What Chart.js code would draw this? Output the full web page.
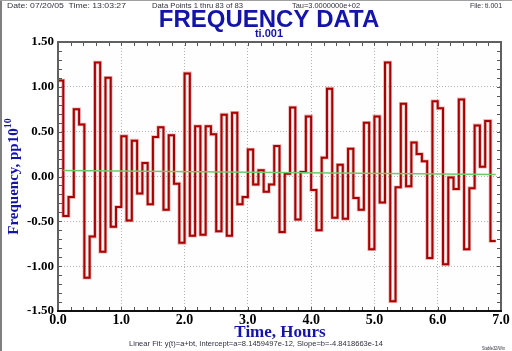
<!DOCTYPE html>
<html><head><meta charset="utf-8">
<script src="https://cdn.jsdelivr.net/npm/chart.js@4.4.0/dist/chart.umd.min.js"></script>
<style>html,body{margin:0;padding:0;background:#fff;}canvas{display:block}</style>
</head><body>
<canvas id="c" width="512" height="351"></canvas>
<script>
// ---- data ----
const tauSeconds = 300;
const freqValues = [1.07,-0.44,-0.23,0.75,0.58,-1.13,-0.67,1.27,-0.84,1.10,
  -0.56,-0.34,0.45,-0.49,0.40,-0.19,0.15,-0.31,0.44,0.55,
  -0.37,0.46,-0.08,-0.74,1.15,-0.66,0.56,-0.65,0.56,0.47,
  -0.61,0.69,-0.66,0.71,-0.31,-0.23,0.30,-0.09,0.07,-0.17,
  -0.09,0.34,-0.62,0.03,0.77,-0.48,0.05,0.67,-0.15,-0.60,
  0.21,0.98,-0.46,0.13,-0.47,0.31,-0.24,-0.37,0.60,-0.81,
  0.67,-0.29,1.27,-1.39,-0.12,0.81,-0.11,0.38,0.25,0.17,
  -0.91,0.84,0.76,-0.98,-0.01,-0.14,0.86,-0.81,-0.13,0.57,
  0.11,0.62,-0.72];
const fitTimes = [0.083, 6.917];
const fitValues = [0.068, 0.023];
const xTickLabels = ['0.0','1.0','2.0','3.0','4.0','5.0','6.0','7.0'];
const yTickLabels = ['-1.50','-1.00','-0.50','0.00','0.50','1.00','1.50'];
const headerTexts = ['Date: 07/20/05  Time: 13:03:27','Data Points 1 thru 83 of 83','Tau=3.0000000e+02','File: ti.001'];
const titleText = 'FREQUENCY DATA';
const subtitleText = 'ti.001';
const xTitle = 'Time, Hours';
const yTitleMain = 'Frequency, pp10';
const yTitleSup = '10';
const fitText = 'Linear Fit: y(t)=a+bt, Intercept=a=8.1459497e-12, Slope=b=-4.8418663e-14';
const footText = 'Stable32/Win';

const tauH = tauSeconds / 3600;
const stepPoints = freqValues.map((v, i) => ({x: i * tauH, y: v}));
stepPoints.push({x: freqValues.length * tauH, y: freqValues[freqValues.length - 1]});
const fitPoints = fitTimes.map((t, i) => ({x: t, y: fitValues[i]}));

function fitText2(ctx, text, x, y, w, font, color, align) {
  ctx.save();
  ctx.font = font; ctx.fillStyle = color; ctx.textBaseline = 'middle'; ctx.textAlign = 'left';
  const m = ctx.measureText(text).width;
  const s = w / m;
  let x0 = x;
  if (align === 'right') x0 = x - w;
  ctx.translate(x0, y); ctx.scale(s, 1);
  ctx.fillText(text, 0, 0);
  ctx.restore();
}

const decor = {
  id: 'decor',
  beforeDraw(chart) {
    const ctx = chart.ctx, a = chart.chartArea;
    ctx.save();
    ctx.fillStyle = '#ffffff'; ctx.fillRect(0, 0, chart.width, chart.height);
    ctx.fillStyle = '#fdfefd'; ctx.fillRect(a.left, a.top, a.right - a.left, a.bottom - a.top);
    ctx.fillStyle = '#808080'; ctx.fillRect(0, 0, 2, chart.height);
    ctx.fillStyle = '#a0a0a0'; ctx.fillRect(0, 0, chart.width, 1);
    ctx.restore();
  },
  afterDatasetsDraw(chart) {
    const ctx = chart.ctx, a = chart.chartArea;
    const xs = chart.scales.x, ys = chart.scales.y;
    ctx.save();
    ctx.strokeStyle = '#555'; ctx.lineWidth = 1;
    ctx.beginPath();
    for (let k = -15; k <= 15; k++) {
      const py = Math.round(ys.getPixelForValue(k / 10)) + 0.5;
      ctx.moveTo(a.left, py); ctx.lineTo(a.left + 4, py);
      ctx.moveTo(a.right, py); ctx.lineTo(a.right - 4, py);
    }
    for (let k = 0; k <= 35; k++) {
      const px = Math.round(xs.getPixelForValue(k / 5)) + 0.5;
      ctx.moveTo(px, a.top); ctx.lineTo(px, a.top + 4);
      ctx.moveTo(px, a.bottom); ctx.lineTo(px, a.bottom - 4);
    }
    ctx.stroke();
    ctx.lineWidth = 2;
    ctx.strokeStyle = '#606060';
    ctx.beginPath();
    ctx.moveTo(a.left, a.bottom); ctx.lineTo(a.left, a.top); ctx.lineTo(a.right, a.top); ctx.lineTo(a.right, a.bottom);
    ctx.stroke();
    ctx.strokeStyle = '#111';
    ctx.beginPath(); ctx.moveTo(a.left - 1, a.bottom); ctx.lineTo(a.right + 1, a.bottom); ctx.stroke();
    ctx.restore();
  },
  afterDraw(chart) {
    const ctx = chart.ctx;
    ctx.save();
    fitText2(ctx, headerTexts[0], 7, 5.5, 119, '8px "Liberation Sans"', '#303040', 'left');
    fitText2(ctx, headerTexts[1], 152, 5.5, 91, '8px "Liberation Sans"', '#303040', 'left');
    fitText2(ctx, headerTexts[2], 292, 5.5, 68, '8px "Liberation Sans"', '#303040', 'left');
    fitText2(ctx, headerTexts[3], 502, 5.5, 32, '8px "Liberation Sans"', '#303040', 'right');
    ctx.fillStyle = '#1414a8'; ctx.textAlign = 'center'; ctx.textBaseline = 'alphabetic';
    ctx.font = 'bold 24px "Liberation Sans"';
    ctx.fillText(titleText, 269, 27);
    ctx.font = 'bold 11px "Liberation Sans"';
    ctx.fillText(subtitleText, 269, 37);
    ctx.font = 'bold 17px "Liberation Serif"';
    ctx.fillText(xTitle, 280, 337);
    ctx.save();
    ctx.translate(18, 176.5);
    ctx.rotate(-Math.PI / 2);
    ctx.font = 'bold 15px "Liberation Serif"';
    const w1 = ctx.measureText(yTitleMain).width;
    ctx.font = 'bold 10px "Liberation Serif"';
    const w2 = ctx.measureText(yTitleSup).width;
    const x0 = -(w1 + w2) / 2;
    ctx.textAlign = 'left';
    ctx.font = 'bold 15px "Liberation Serif"';
    ctx.fillText(yTitleMain, x0, 0);
    ctx.font = 'bold 10px "Liberation Serif"';
    ctx.fillText(yTitleSup, x0 + w1, -7);
    ctx.restore();
    fitText2(ctx, fitText, 129, 344, 254, '7px "Liberation Sans"', '#303040', 'left');
    fitText2(ctx, footText, 505, 348.5, 23, '5px "Liberation Sans"', '#303040', 'right');
    ctx.restore();
  }
};

new Chart(document.getElementById('c'), {
  type: 'line',
  data: {
    datasets: [
      {data: fitPoints, borderColor: '#6ccc6c', borderWidth: 1.5, pointRadius: 0, order: 0},
      {data: stepPoints, stepped: 'before', borderColor: '#a80000', borderWidth: 2, pointRadius: 0, order: 1},
      {data: stepPoints, stepped: 'before', borderColor: 'rgba(214,90,90,0.45)', borderWidth: 3.6, pointRadius: 0, order: 2}
    ]
  },
  options: {
    responsive: false, animation: false,
    layout: {padding: {left: 0, top: 42, right: 11, bottom: 20}},
    plugins: {legend: {display: false}, tooltip: {enabled: false}, title: {display: false}},
    scales: {
      x: {
        type: 'linear', min: 0, max: 7,
        afterFit: s => { s.height = 20; },
        grid: {color: '#b4b4b4', drawTicks: false, lineWidth: 1},
        border: {display: false, dash: [1, 2]},
        ticks: {stepSize: 1, padding: 1, color: '#000', font: {family: '"Liberation Serif"', size: 14, weight: 'bold'},
          callback: (v, i) => xTickLabels[i]}
      },
      y: {
        type: 'linear', min: -1.5, max: 1.5,
        afterFit: s => { s.width = 58; },
        grid: {color: '#b4b4b4', drawTicks: false, lineWidth: 1},
        border: {display: false, dash: [1, 2]},
        ticks: {stepSize: 0.5, padding: 4, color: '#000', font: {family: '"Liberation Serif"', size: 13, weight: 'bold'},
          callback: (v, i) => yTickLabels[i]}
      }
    }
  },
  plugins: [decor]
});
</script>
</body></html>
